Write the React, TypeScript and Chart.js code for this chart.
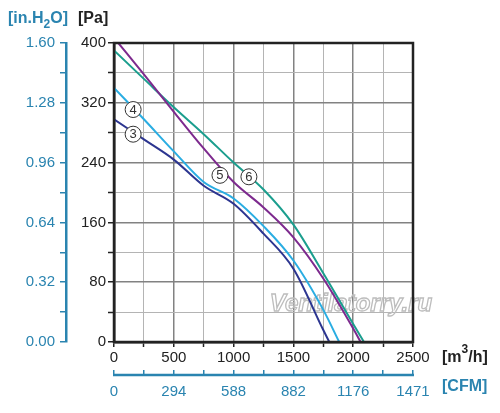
import { useEffect, useRef } from "react"
import { Chart, registerables } from "chart.js"

Chart.register(...registerables)

// airflow [m3/h] and static pressure [Pa] for each curve
const flow3 = [0, 250, 500, 750, 1000, 1250, 1500, 1750, 1800]
const pa3 = [298, 271, 244, 209, 185, 145, 98, 16, 0]

const flow4 = [0, 250, 500, 750, 1000, 1250, 1500, 1750, 1883]
const pa4 = [340, 298, 255, 214, 192, 155, 109, 43, 0]

const flow5 = [36, 250, 500, 750, 1000, 1250, 1500, 1750, 2000, 2062]
const pa5 = [400, 358, 308, 259, 214, 180, 140, 85, 18, 0]

const flow6 = [0, 250, 500, 750, 1000, 1250, 1500, 1750, 2000, 2090]
const pa6 = [390, 352, 314, 278, 240, 204, 157, 92, 24, 0]

// tick labels
const flowTicks = [0, 500, 1000, 1500, 2000, 2500]
const cfmTicks = ["0", "294", "588", "882", "1176", "1471"]
const paTicks = [0, 80, 160, 240, 320, 400]
const inH2OTicks = ["0.00", "0.32", "0.64", "0.96", "1.28", "1.60"]

// circled curve numbers, placed in data units
const curveNames = ["3", "4", "5", "6"]
const nameFlow = [160, 160, 886, 1128]
const namePa = [278, 311, 223, 221]

const BLUE = "#2a84b0"
const INK = "#222222"
const FONT = "'Liberation Sans', Arial, sans-serif"

const toPoints = (xs: number[], ys: number[]) => xs.map((x, i) => ({ x, y: ys[i] }))

const decorations = {
  id: "decorations",
  beforeDatasetsDraw(chart: any) {
    const { ctx } = chart
    ctx.save()
    ctx.font = `italic bold 24px ${FONT}`
    ctx.textAlign = "center"
    ctx.textBaseline = "middle"
    ctx.strokeStyle = "#bdbdbd"
    ctx.lineWidth = 1.3
    ctx.strokeText("Ventilatorry.ru", 351, 304)
    ctx.restore()
  },
  afterDatasetsDraw(chart: any) {
    const { ctx, scales } = chart
    ctx.save()
    curveNames.forEach((name, i) => {
      const px = scales.x.getPixelForValue(nameFlow[i])
      const py = scales.y.getPixelForValue(namePa[i])
      ctx.beginPath()
      ctx.arc(px, py, 8, 0, Math.PI * 2)
      ctx.fillStyle = "#fff"
      ctx.fill()
      ctx.strokeStyle = "#333"
      ctx.lineWidth = 1
      ctx.stroke()
      ctx.fillStyle = "#333"
      ctx.font = `13px ${FONT}`
      ctx.textAlign = "center"
      ctx.textBaseline = "middle"
      ctx.fillText(name, px, py + 0.5)
    })
    ctx.restore()
  },
  afterDraw(chart: any) {
    const { ctx, chartArea: a, scales } = chart
    ctx.save()
    ctx.strokeStyle = INK
    ctx.lineWidth = 2.5
    ctx.strokeRect(a.left, a.top, a.right - a.left, a.bottom - a.top)

    // CFM axis line, tick marks rise above it
    const x2 = scales.x2
    const yLine = x2.top + 5
    ctx.strokeStyle = BLUE
    ctx.lineWidth = 2.5
    ctx.beginPath()
    ctx.moveTo(x2.getPixelForValue(0) - 1, yLine)
    ctx.lineTo(x2.getPixelForValue(2500) + 1, yLine)
    ctx.stroke()

    ctx.textBaseline = "middle"
    ctx.textAlign = "left"
    const big = `bold 16px ${FONT}`
    const small = `bold 12px ${FONT}`

    // [in.H2O]
    let x = 8
    ctx.fillStyle = BLUE
    ctx.font = big
    ctx.fillText("[in.H", x, 19)
    x += ctx.measureText("[in.H").width
    ctx.font = small
    ctx.fillText("2", x, 25)
    x += ctx.measureText("2").width
    ctx.font = big
    ctx.fillText("O]", x, 19)

    // [Pa]
    ctx.fillStyle = INK
    ctx.fillText("[Pa]", 78, 19)

    // [m3/h]
    x = 442
    ctx.fillText("[m", x, 358)
    x += ctx.measureText("[m").width
    ctx.font = small
    ctx.fillText("3", x, 350)
    x += ctx.measureText("3").width
    ctx.font = big
    ctx.fillText("/h]", x, 358)

    // [CFM]
    ctx.fillStyle = BLUE
    ctx.fillText("[CFM]", 442, 387)
    ctx.restore()
  },
}

export default function App() {
  const canvasRef = useRef<HTMLCanvasElement>(null)

  useEffect(() => {
    const canvas = canvasRef.current
    if (!canvas) return

    const tickFont = { family: FONT, size: 15 }

    const chart = new Chart(canvas, {
      type: "line",
      data: {
        datasets: [
          { label: "3", data: toPoints(flow3, pa3), borderColor: "#2c3590" },
          { label: "4", data: toPoints(flow4, pa4), borderColor: "#2aade2" },
          { label: "5", data: toPoints(flow5, pa5), borderColor: "#7d2a8e" },
          { label: "6", data: toPoints(flow6, pa6), borderColor: "#1b9e8e" },
        ],
      },
      options: {
        animation: false,
        responsive: false,
        layout: { padding: { top: 43, right: 87, bottom: 0, left: 0 } },
        elements: {
          point: { radius: 0 },
          line: { borderWidth: 2, cubicInterpolationMode: "monotone", fill: false },
        },
        plugins: { legend: { display: false }, tooltip: { enabled: false } },
        scales: {
          x: {
            type: "linear",
            position: "bottom",
            weight: 0,
            min: 0,
            max: 2500,
            ticks: {
              stepSize: 250,
              autoSkip: false,
              maxRotation: 0,
              minRotation: 0,
              color: INK,
              font: tickFont,
              padding: 2,
              callback: (v: any) => (flowTicks.includes(v) ? String(v) : ""),
            },
            grid: {
              color: (c: any) => (c.tick && c.tick.value % 500 === 0 ? "#828282" : "#b4b4b4"),
              lineWidth: (c: any) => (c.tick && c.tick.value % 500 === 0 ? 1.5 : 1),
              tickLength: 5,
              tickColor: INK,
              tickWidth: 1.5,
            },
            border: { color: INK, width: 2.5 },
            afterFit: (s: any) => {
              s.height = 28
            },
          },
          x2: {
            type: "linear",
            position: "bottom",
            weight: 1,
            min: 0,
            max: 2500,
            ticks: {
              stepSize: 250,
              autoSkip: false,
              maxRotation: 0,
              minRotation: 0,
              color: BLUE,
              font: tickFont,
              padding: 8,
              callback: (_v: any, i: number) => (i % 2 === 0 ? cfmTicks[i / 2] : ""),
            },
            grid: { drawOnChartArea: false, color: BLUE, tickLength: 5, lineWidth: 1.5 },
            border: { display: false },
            afterFit: (s: any) => {
              s.height = 43
            },
          },
          y: {
            type: "linear",
            position: "left",
            weight: 0,
            min: 0,
            max: 400,
            ticks: {
              stepSize: 40,
              autoSkip: false,
              color: INK,
              font: tickFont,
              padding: 2,
              callback: (v: any) => (paTicks.includes(v) ? String(v) : ""),
            },
            grid: {
              color: (c: any) => (c.tick && c.tick.value % 80 === 0 ? "#828282" : "#b4b4b4"),
              lineWidth: (c: any) => (c.tick && c.tick.value % 80 === 0 ? 1.5 : 1),
              tickLength: 6,
              tickColor: INK,
              tickWidth: 1.5,
            },
            border: { color: INK, width: 2.5 },
            afterFit: (s: any) => {
              s.width = 48
            },
          },
          y2: {
            type: "linear",
            position: "left",
            weight: 1,
            min: 0,
            max: 1.6,
            ticks: {
              stepSize: 0.16,
              autoSkip: false,
              color: BLUE,
              font: tickFont,
              padding: 5,
              callback: (_v: any, i: number) => (i % 2 === 0 ? inH2OTicks[i / 2] : ""),
            },
            grid: { drawOnChartArea: false, color: BLUE, tickLength: 6, lineWidth: 1.5 },
            border: { color: BLUE, width: 2.5 },
            afterFit: (s: any) => {
              s.width = 66
            },
          },
        },
      },
      plugins: [decorations],
    })

    return () => {
      chart.destroy()
    }
  }, [])

  return (
    <div style={{ position: "fixed", left: 0, top: 0, width: 500, height: 413, background: "#fff" }}>
      <canvas ref={canvasRef} width={500} height={413} style={{ display: "block" }} />
    </div>
  )
}
